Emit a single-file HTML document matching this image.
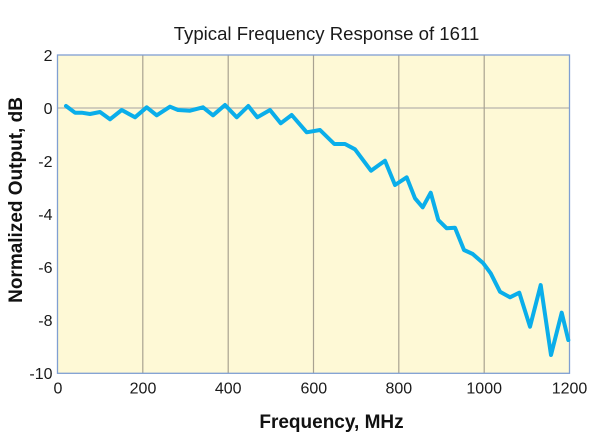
<!DOCTYPE html>
<html><head><meta charset="utf-8"><style>
html,body{margin:0;padding:0;background:#fff;}
svg{display:block;font-family:"Liberation Sans",Arial,sans-serif;}
</style></head><body>
<svg width="600" height="444" viewBox="0 0 600 444" xmlns="http://www.w3.org/2000/svg">
<rect x="0" y="0" width="600" height="444" fill="#ffffff"/>
<text x="326.5" y="40" font-size="18.6" text-anchor="middle" fill="#1a1a1a">Typical Frequency Response of 1611</text>
<rect x="57.5" y="55" width="512" height="318.3" fill="#fef9d6"/>
<line x1="57.5" y1="108" x2="569.5" y2="108" stroke="#c4c0b4" stroke-width="1.5"/>
<g stroke="#a8a291" stroke-width="1.2">
<line x1="142.8" y1="55" x2="142.8" y2="373.3"/>
<line x1="228.2" y1="55" x2="228.2" y2="373.3"/>
<line x1="313.5" y1="55" x2="313.5" y2="373.3"/>
<line x1="398.8" y1="55" x2="398.8" y2="373.3"/>
<line x1="484.2" y1="55" x2="484.2" y2="373.3"/>
</g>
<rect x="57.5" y="55" width="512" height="318.3" fill="none" stroke="#7f9fd2" stroke-width="1.3"/>
<polyline fill="none" stroke="#0aaeea" stroke-width="4" stroke-linejoin="round" stroke-linecap="round" points="66,106 75,112.7 81.7,112.7 90,114 100,112 110,119.3 121.7,110 135,117.3 146.7,107.3 156.7,115.3 170,106.7 178,110 190,110.7 203,107.3 213,115.3 225,105 236.7,117.3 248.3,106 257.3,117.3 270,110 280.7,123.3 291.7,115 306.7,132.3 320,130 334.3,144 345,144 355,149.3 371,170.7 385,160.7 395,185 406.7,177.3 415,198.3 422.7,207.3 430.7,192.7 438.3,220 446.7,228.3 455,227.7 464,250 472.7,254 483.3,263.3 490.7,273.3 500,291.7 510,297.3 519.3,292.7 530,326.7 540.7,285 551,355 561.7,312.7 568.3,340"/>
<g font-size="16" fill="#1a1a1a" text-anchor="end">
<text x="52.5" y="60.8">2</text>
<text x="52.5" y="113.8">0</text>
<text x="52.5" y="166.8">-2</text>
<text x="52.5" y="219.8">-4</text>
<text x="52.5" y="272.8">-6</text>
<text x="52.5" y="325.8">-8</text>
<text x="52.5" y="378.8">-10</text>
</g>
<g font-size="16" fill="#1a1a1a" text-anchor="middle">
<text x="58" y="393.5">0</text>
<text x="143" y="393.5">200</text>
<text x="228.2" y="393.5">400</text>
<text x="313.8" y="393.5">600</text>
<text x="398.8" y="393.5">800</text>
<text x="484.2" y="393.5">1000</text>
<text x="569.5" y="393.5">1200</text>
</g>
<text x="331.5" y="428" font-size="19" font-weight="bold" text-anchor="middle" fill="#111">Frequency, MHz</text>
<text transform="translate(22,200) rotate(-90)" font-size="19" font-weight="bold" text-anchor="middle" fill="#111">Normalized Output, dB</text>
</svg>
</body></html>
